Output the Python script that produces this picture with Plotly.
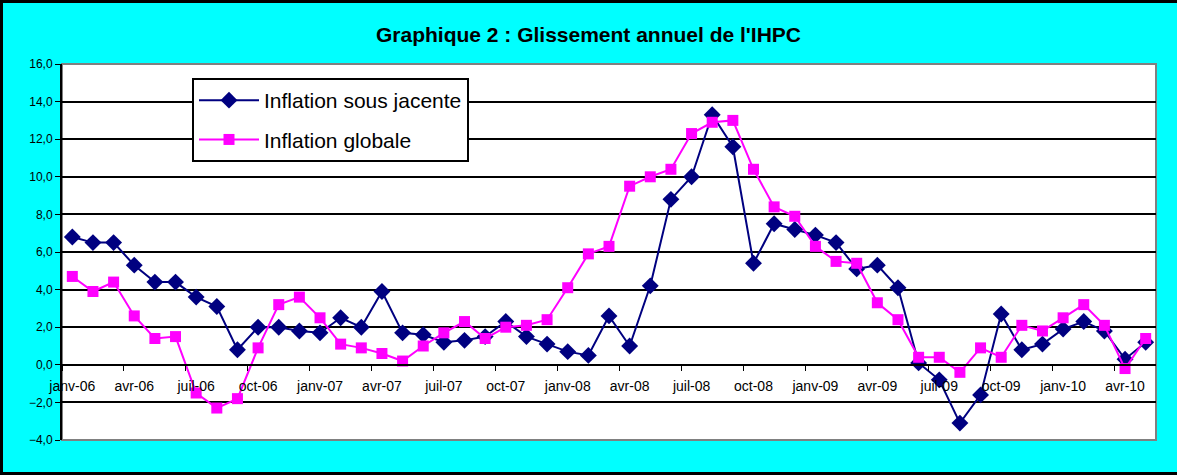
import plotly.graph_objects as go

mois = ["janv", "févr", "mars", "avr", "mai", "juin", "juil", "août", "sept", "oct", "nov", "déc"]
annees = ["06", "07", "08", "09", "10"]
categories = [f"{m}-{a}" for a in annees for m in mois][:53]

inflation_sous_jacente = [6.8, 6.5, 6.5, 5.3, 4.4, 4.4, 3.6, 3.1, 0.8, 2.0, 2.0, 1.8,
                          1.7, 2.5, 2.0, 3.9, 1.7, 1.6, 1.2, 1.3, 1.5, 2.3, 1.5, 1.1,
                          0.7, 0.5, 2.6, 1.0, 4.2, 8.8, 10.0, 13.3, 11.6, 5.4, 7.5, 7.2,
                          6.9, 6.5, 5.1, 5.3, 4.1, 0.1, -0.8, -3.1, -1.6, 2.7, 0.8, 1.1,
                          1.9, 2.3, 1.8, 0.3, 1.2]
inflation_globale = [4.7, 3.9, 4.4, 2.6, 1.4, 1.5, -1.5, -2.3, -1.8, 0.9, 3.2, 3.6,
                     2.5, 1.1, 0.9, 0.6, 0.2, 1.0, 1.7, 2.3, 1.4, 2.0, 2.1, 2.4,
                     4.1, 5.9, 6.3, 9.5, 10.0, 10.4, 12.3, 12.9, 13.0, 10.4, 8.4, 7.9,
                     6.3, 5.5, 5.4, 3.3, 2.4, 0.4, 0.4, -0.4, 0.9, 0.4, 2.1, 1.8,
                     2.5, 3.2, 2.1, -0.2, 1.4]

x = list(range(len(categories)))
label_idx = x[::3]
label_text = [categories[i] for i in label_idx]
boundary_ticks = [i - 0.5 for i in label_idx]

FONT = "Arial, Liberation Sans, sans-serif"

fig = go.Figure()
fig.add_trace(go.Scatter(
    x=x, y=inflation_sous_jacente, mode="lines+markers", name="Inflation sous jacente",
    line=dict(color="#000080", width=2),
    marker=dict(symbol="diamond", size=13, color="#000080"),
    legendgroup="a",
))
fig.add_trace(go.Scatter(
    x=x, y=inflation_globale, mode="lines+markers", name="Inflation globale",
    line=dict(color="#FF00FF", width=2),
    marker=dict(symbol="square", size=11, color="#FF00FF"),
    legendgroup="b",
))

W, H = 1177, 475
ml, mr, mt, mb = 62, 21, 64, 35
pw, ph = W - ml - mr, H - mt - mb

fig.update_layout(
    width=W, height=H,
    margin=dict(l=ml, r=mr, t=mt, b=mb),
    paper_bgcolor="#00FFFF",
    plot_bgcolor="white",
    separators=", ",
    font=dict(family=FONT, color="black"),
    title=dict(text="<b>Graphique 2 : Glissement annuel de l'IHPC</b>",
               x=0.5, xanchor="center", y=1 - 35 / H, yanchor="middle",
               font=dict(size=21, family=FONT, color="black")),
    showlegend=True,
    legend=dict(x=(192 - ml) / pw, y=(H - mb - 78) / ph, xanchor="left", yanchor="top",
                bgcolor="white", bordercolor="black", borderwidth=2,
                font=dict(size=21, family=FONT, color="black"),
                tracegroupgap=9, itemwidth=60),
    xaxis=dict(
        range=[-0.5, len(categories) - 0.5],
        anchor="free", position=4 / 20,
        tickmode="array", tickvals=label_idx, ticktext=label_text,
        ticks="", ticklabelstandoff=8,
        tickfont=dict(size=14, family=FONT, color="black"),
        showgrid=False, zeroline=False,
        showline=True, linecolor="black", linewidth=2,
        minor=dict(tickmode="array", tickvals=boundary_ticks, ticks="outside",
                   ticklen=5, tickwidth=1, tickcolor="black", showgrid=False),
    ),
    yaxis=dict(
        range=[-4, 16], dtick=2, tickformat=".1f",
        showgrid=True, gridcolor="black", gridwidth=2,
        zeroline=False,
        showline=True, linecolor="black", linewidth=2,
        ticks="outside", ticklen=5, tickcolor="black", tickwidth=1,
        tickfont=dict(size=12, family=FONT, color="black"),
    ),
    shapes=[
        dict(type="rect", xref="paper", yref="paper", x0=0, x1=1, y0=0, y1=1,
             line=dict(color="#808080", width=2), layer="below"),
        dict(type="rect", xref="paper", yref="paper",
             x0=-(ml - 1.5) / pw, x1=1 + (mr + 10) / pw,
             y0=-(mb - 1.5) / ph, y1=1 + (mt - 1.5) / ph,
             line=dict(color="black", width=3), layer="above"),
    ],
)

fig.write_html("out.html",
               config={"displayModeBar": False},
               post_script="document.body.style.margin='0';document.body.style.padding='0';")
